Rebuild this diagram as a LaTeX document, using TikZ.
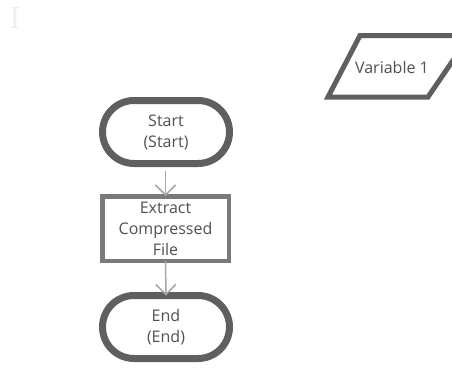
\documentclass[tikz,border=0pt]{standalone}
\usepackage{fontspec}
\setmainfont{Open Sans}
\newfontfamily\cursorfont{Liberation Serif}
\usetikzlibrary{arrows.meta}
\definecolor{termgray}{HTML}{5F5F5F}
\definecolor{procgray}{HTML}{7A7A7A}
\definecolor{linegray}{HTML}{A6A6A6}
\definecolor{txtgray}{HTML}{505050}
\definecolor{cursorgray}{HTML}{EEEEEE}
\tikzset{
  lbl/.style={text=txtgray, align=center, font=\fontsize{16}{21}\selectfont, inner sep=0pt},
  terminal/.style={lbl, draw=termgray, line width=7pt, rounded corners=31.5pt, minimum width=127pt, minimum height=63pt, fill=white},
  process/.style={lbl, draw=procgray, line width=4.5pt, minimum width=126.5pt, minimum height=64.5pt, fill=white},
  flow/.style={draw=linegray, line width=1.5pt, -{Straight Barb[length=10pt,width=20pt,line width=1.5pt]}},
  iobox/.style={draw=termgray, line width=5pt, line join=miter}
}
\begin{document}
\begin{tikzpicture}[x=1pt,y=-1pt]
\useasboundingbox (0,0) rectangle (452,367);
\fill[white] (0,0) rectangle (452,367);
\node[text=cursorgray, font=\cursorfont\fontsize{32}{32}\selectfont, inner sep=0pt] (cursor) at (15,18) {I};
\begin{scope}
  \clip (0,0) rectangle (452,367);
  \draw[iobox] (328,97) -- (360,35.5) -- (470,35.5) -- (428,97) -- cycle;
\end{scope}
\node[lbl] (var) at (392,67) {Variable 1};
\node[terminal] (start) at (166,132) {Start\\(Start)};
\node[process] (proc) at (165.5,228.5) {Extract\\Compressed\\File};
\node[terminal] (end) at (166,327) {End\\(End)};
\draw[flow] (start.south -| proc.north) ++(0,3.5) coordinate (s1) -- ([yshift=-2pt]proc.north);
\draw[flow] ([yshift=2pt]proc.south) -- ([yshift=-3.5pt]end.north);
\end{tikzpicture}
\end{document}
